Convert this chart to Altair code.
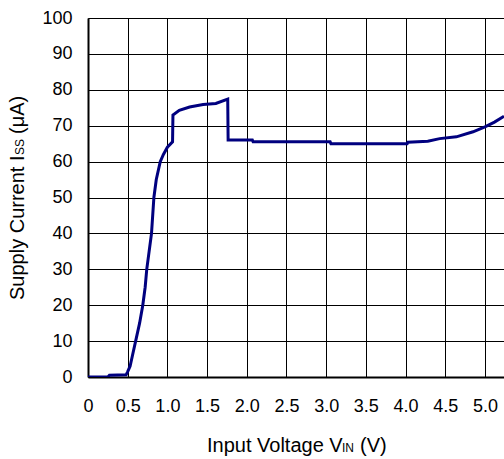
import altair as alt
import pandas as pd

# Supply current vs. input voltage
vin = [0.00, 0.25, 0.27, 0.48, 0.50, 0.53, 0.56, 0.60, 0.65, 0.69, 0.72, 0.74,
       0.77, 0.80, 0.83, 0.86, 0.91, 0.95, 1.00, 1.065, 1.07, 1.15, 1.28, 1.45,
       1.61, 1.76, 1.765, 2.07, 2.08, 3.05, 3.06, 4.02, 4.03, 4.28, 4.43, 4.64,
       4.85, 5.00, 5.12, 5.24]
iss = [0.0, 0.0, 0.5, 0.6, 1.5, 3.0, 6.0, 10.0, 15.0, 20.0, 25.0, 30.0,
       35.0, 40.0, 50.0, 55.0, 60.0, 62.0, 64.0, 65.5, 73.0, 74.3, 75.2, 75.9,
       76.2, 77.4, 66.0, 66.0, 65.5, 65.5, 65.0, 65.0, 65.4, 65.7, 66.4, 66.9,
       68.3, 69.7, 71.0, 72.6]

x_ticks = [0.0, 0.5, 1.0, 1.5, 2.0, 2.5, 3.0, 3.5, 4.0, 4.5, 5.0]
y_ticks = [0, 10, 20, 30, 40, 50, 60, 70, 80, 90, 100]

FONT = "Liberation Sans"
W, H = 416, 359

df = pd.DataFrame({"vin": vin, "iss": iss})

curve = alt.Chart(df).mark_line(color="#00007f", strokeWidth=3, clip=True).encode(
    x=alt.X(
        "vin:Q",
        scale=alt.Scale(domain=[0, 5.24], nice=False, zero=False),
        axis=alt.Axis(
            values=x_ticks,
            labelExpr="datum.value == 0 ? '0' : format(datum.value, '.1f')",
            title=None, grid=True, ticks=False, tickSize=0,
            labelPadding=20, labelFontSize=18, labelFont=FONT, labelColor="black",
            domainColor="black", domainWidth=2, gridColor="black", gridWidth=1,
            labelFlush=False, labelOverlap=False,
        ),
    ),
    y=alt.Y(
        "iss:Q",
        scale=alt.Scale(domain=[0, 100], nice=False),
        axis=alt.Axis(
            values=y_ticks, title=None, grid=True, ticks=False, tickSize=0,
            labelPadding=16, labelFontSize=18, labelFont=FONT, labelColor="black",
            domainColor="black", domainWidth=2, gridColor="black", gridWidth=1,
            labelFlush=False, labelOverlap=False,
        ),
    ),
)


def label(txt, x, y, size, angle=0):
    return alt.Chart(pd.DataFrame({"t": [txt]})).mark_text(
        font=FONT, fontSize=size, color="black", align="left",
        baseline="alphabetic", angle=angle,
    ).encode(text="t:N", x=alt.value(x), y=alt.value(y))


# x-axis title with subscript
x_title = [
    label("Input Voltage V", 119, 434, 20),
    label("IN", 254, 434, 12),
    label("(V)", 272, 434, 20),
]

# y-axis title with subscript, rotated
y_title = [
    label("Supply Current I", -64, 282, 20, angle=270),
    label("SS", -64, 137, 12, angle=270),
    label("(μA)", -64, 116, 20, angle=270),
]

chart = alt.layer(curve, *x_title, *y_title).properties(
    width=W, height=H,
    padding={"left": 88, "top": 18, "right": 0, "bottom": 82},
    autosize=alt.AutoSizeParams(type="none"),
).configure_view(stroke=None).configure(background="white")

chart.save("out.html", embed_options={"renderer": "svg", "actions": False})
